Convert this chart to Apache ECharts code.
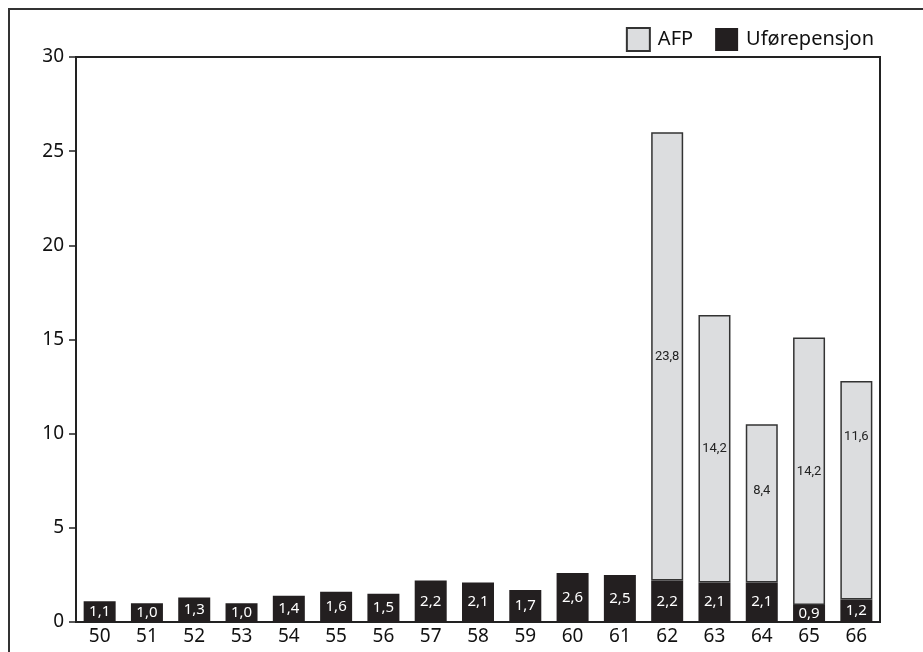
<!DOCTYPE html>
<html>
<head>
<meta charset="utf-8">
<script src="https://cdn.jsdelivr.net/npm/echarts@6/dist/echarts.min.js"></script>
<style>
html,body{margin:0;padding:0;background:#fff;}
#chart{width:923px;height:652px;}
</style>
</head>
<body>
<div id="chart"></div>
<script>
// alder
const ages = ['50','51','52','53','54','55','56','57','58','59','60','61','62','63','64','65','66'];
// uførepensjon, prosent
const ufore = [1.1,1.0,1.3,1.0,1.4,1.6,1.5,2.2,2.1,1.7,2.6,2.5,2.2,2.1,2.1,0.9,1.2];
// AFP, prosent (bare fra 62 år)
const afp = [null,null,null,null,null,null,null,null,null,null,null,null,23.8,14.2,8.4,14.2,11.6];
const yTicks = [0,5,10,15,20,25,30];

const fmt = v => v.toFixed(1).replace('.', ',');
// etiketter som ikke står midt i stolpen
const labelShift = { 14: -13, 16: -53 };
const afpItems = afp.map((v, i) => labelShift[i] ? { value: v, label: { offset: [0, labelShift[i]] } } : v);

let myChart = echarts.init(document.getElementById('chart'));
let option = {
    animation: false,
    textStyle: { fontFamily: 'Noto Sans' },
    graphic: [{
        type: 'rect',
        shape: { x: 9, y: 9, width: 1000, height: 1000 },
        style: { fill: 'none', stroke: '#333', lineWidth: 2 }
    }],
    legend: {
        data: ['AFP', 'Uførepensjon'],
        right: 44,
        top: 22,
        itemWidth: 23,
        itemHeight: 23,
        itemGap: 22,
        icon: 'rect',
        textStyle: { fontSize: 20, color: '#111', padding: [0, 0, 0, 3] }
    },
    grid: {
        left: 76, right: 43, top: 57, bottom: 30,
        show: true,
        borderColor: '#222',
        borderWidth: 2
    },
    xAxis: {
        type: 'category',
        data: ages,
        axisLine: { lineStyle: { color: '#222', width: 2 } },
        axisTick: { show: false },
        axisLabel: { fontSize: 19, color: '#111', margin: 5 }
    },
    yAxis: {
        type: 'value',
        min: yTicks[0],
        max: yTicks[yTicks.length - 1],
        interval: 5,
        splitLine: { show: false },
        axisLine: { show: true, lineStyle: { color: '#222', width: 2 } },
        axisTick: { show: true, length: 7, lineStyle: { color: '#222', width: 1.5 } },
        axisLabel: { fontSize: 19, color: '#111', margin: 12 }
    },
    series: [
        {
            name: 'Uførepensjon',
            type: 'bar',
            stack: 'tot',
            barWidth: 32,
            data: ufore,
            itemStyle: { color: '#231f20' },
            label: {
                show: true,
                position: 'inside',
                color: '#fff',
                fontSize: 15,
                formatter: p => fmt(p.value)
            }
        },
        {
            name: 'AFP',
            type: 'bar',
            stack: 'tot',
            barWidth: 32,
            data: afpItems,
            itemStyle: { color: '#dcdddf', borderColor: '#333', borderWidth: 1.5 },
            label: {
                show: true,
                position: 'inside',
                color: '#222',
                fontSize: 13,
                fontFamily: 'Roboto',
                formatter: p => p.value == null ? '' : fmt(p.value)
            }
        }
    ]
};
myChart.setOption(option);
</script>
</body>
</html>
